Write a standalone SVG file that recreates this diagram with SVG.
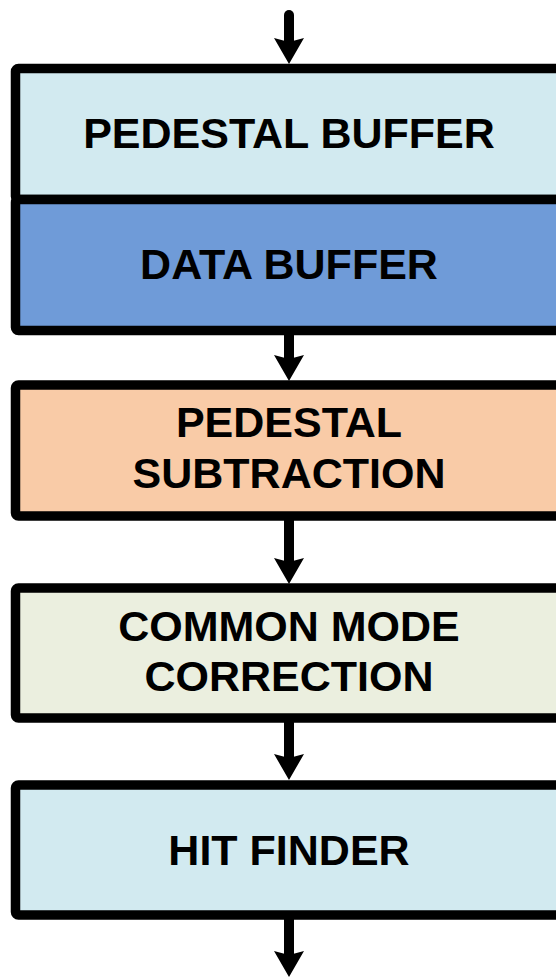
<svg xmlns="http://www.w3.org/2000/svg" width="556" height="977" viewBox="0 0 556 977">
  <style>
    .box { stroke: #000; stroke-width: 9.5; stroke-linejoin: round; }
    .lbl { font-family: "Liberation Sans", Arial, sans-serif; font-weight: bold; font-size: 43px; fill: #000; text-anchor: middle; }
    .wire { stroke: #000; stroke-width: 10; fill: none; marker-end: url(#head); }
  </style>
  <defs>
    <marker id="head" markerUnits="userSpaceOnUse" markerWidth="30" markerHeight="30" viewBox="0 0 26 30" refX="4" refY="15" orient="auto" overflow="visible">
      <path d="M0,0 L4,15 L0,30 L26,15 Z" fill="#000"/>
    </marker>
  </defs>

  <!-- processing stages -->
  <g id="pedestal-buffer">
    <rect class="box" x="15.5" y="68.5" width="560" height="131" rx="3" fill="#D2EAF0"/>
    <text class="lbl" x="289" y="148">PEDESTAL BUFFER</text>
  </g>
  <g id="data-buffer">
    <rect class="box" x="15.5" y="199.5" width="560" height="131" rx="3" fill="#6F9BD8"/>
    <text class="lbl" x="289" y="279">DATA BUFFER</text>
  </g>
  <g id="pedestal-subtraction">
    <rect class="box" x="15.5" y="385" width="560" height="131" rx="3" fill="#F9CBA7"/>
    <text class="lbl" x="289" y="437">PEDESTAL</text>
    <text class="lbl" x="289" y="488">SUBTRACTION</text>
  </g>
  <g id="common-mode-correction">
    <rect class="box" x="15.5" y="588" width="560" height="130" rx="3" fill="#EBEFDF"/>
    <text class="lbl" x="289" y="641">COMMON MODE</text>
    <text class="lbl" x="289" y="691">CORRECTION</text>
  </g>
  <g id="hit-finder">
    <rect class="box" x="15.5" y="785" width="560" height="130" rx="3" fill="#D2EAF0"/>
    <text class="lbl" x="289" y="865">HIT FINDER</text>
  </g>

  <!-- data flow -->
  <g id="connectors">
    <path class="wire" d="M289,15 L289,42" stroke-linecap="round"/>
    <path class="wire" d="M289,335 L289,359"/>
    <path class="wire" d="M289,520 L289,562"/>
    <path class="wire" d="M289,722 L289,758"/>
    <path class="wire" d="M289,919 L289,955"/>
  </g>
</svg>
